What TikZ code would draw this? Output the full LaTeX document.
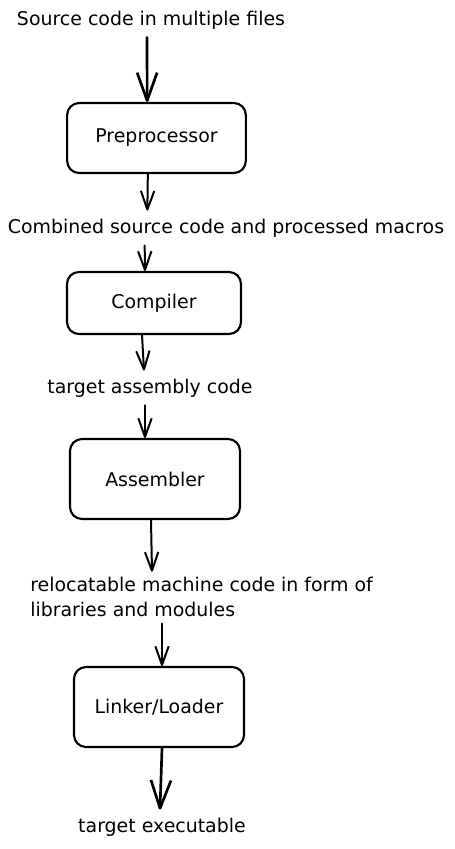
\documentclass[tikz,border=0pt]{standalone}
\usepackage{fontspec}
\setmainfont{DejaVu Sans}
\usetikzlibrary{arrows.meta}
\tikzset{
  stage/.style={draw, line width=1.6pt, rounded corners=9pt, align=center},
  label/.style={inner sep=6pt},
  flow/.style={line width=1.5pt, line cap=round, -{Straight Barb[length=14pt, width=10pt, line join=round]}},
  bigflow/.style={line width=2pt, line cap=round, -{Straight Barb[length=21pt, width=15pt, line join=round]}}
}
\begin{document}
\begin{tikzpicture}[x=0.75pt, y=-0.75pt, font=\fontsize{14.2}{18.5}\selectfont]
  \useasboundingbox (0, 0) rectangle (454, 849);

  % Preprocessor stage
  \node[label] (src) at (151, 20) {Source code in multiple files};
  \node[stage, minimum width=134pt, minimum height=52.5pt] (pre) at (156.5, 138) {Preprocessor};
  \draw[bigflow] ([xshift=-3pt]src.south) -- ([xshift=-7pt]pre.north);

  % Compiler stage
  \node[label] (comb) at (226, 228) {Combined source code and processed macros};
  \draw[flow] ([xshift=-6.5pt]pre.south) -- ([xshift=-59pt]comb.north);
  \node[stage, minimum width=130.5pt, minimum height=46.5pt] (comp) at (154, 303) {Compiler};
  \draw[flow] ([xshift=-61pt]comb.south) -- ([xshift=-6.75pt]comp.north);

  % Assembler stage
  \node[label] (tac) at (150, 388) {target assembly code};
  \draw[flow] ([xshift=-9pt]comp.south) -- ([xshift=-4.5pt]tac.north);
  \node[stage, minimum width=127.5pt, minimum height=60pt] (asm) at (155, 479) {Assembler};
  \draw[flow] ([xshift=-3.75pt]tac.south) -- ([xshift=-7.5pt]asm.north);

  % Linker/Loader stage
  \node[label, anchor=west, align=left, inner sep=0pt] (reloc) at (30, 597)
    {relocatable machine code in form of\\libraries and modules};
  \draw[flow] ([xshift=-3pt]asm.south) -- ([xshift=91.5pt, yshift=4pt]reloc.north west);
  \node[stage, minimum width=127.5pt, minimum height=60pt] (link) at (159, 707) {Linker/Loader};
  \draw[flow] ([xshift=99pt, yshift=-5pt]reloc.south west) -- ([xshift=2.25pt]link.north);

  \node[label] (exe) at (162, 827) {target executable};
  \draw[bigflow] ([xshift=2.25pt]link.south) -- ([xshift=-1.5pt]exe.north);
\end{tikzpicture}
\end{document}
